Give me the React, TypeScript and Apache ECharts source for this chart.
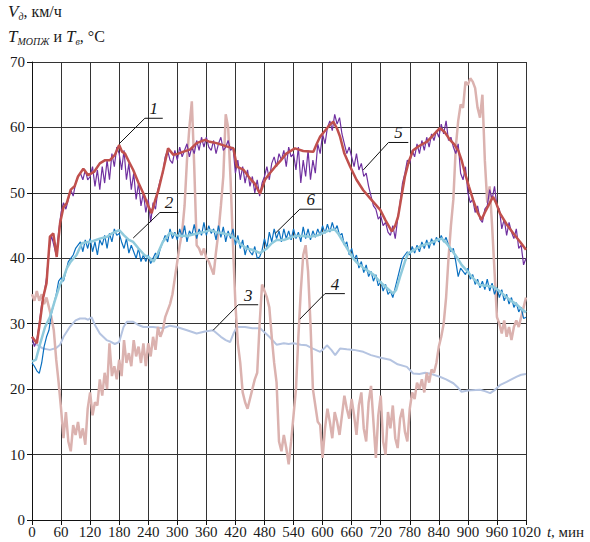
import React, { useEffect, useRef } from "react";
import * as echarts from "echarts";

// ---- Data ----
// Noisy raw series sampled every 5 minutes from 0 to 1020
const purpleSpeed = [
  28, 26.5, 27.5, 30, 33, 34.5, 37, 41, 43.5, 42, 40.5, 44,
  47, 48.5, 47.5, 49, 50.5, 49.5, 51.5, 52.5, 53, 52, 53.5, 52,
  52.5, 54, 51, 53.5, 50.5, 54, 51.5, 55, 52, 56, 54, 57,
  56, 53.5, 56.5, 52, 54.5, 50.5, 53, 49, 51.5, 48, 50, 47,
  49, 45.5, 48.5, 47.5, 50.5, 52, 53, 55.5, 56.5, 55, 54.5, 56.5,
  55, 57, 55.5, 56.5, 57.5, 55.5, 57, 56, 58, 56.5, 58.5, 57,
  58.5, 57, 56.5, 58, 56, 57.5, 58.5, 56.5, 57, 58, 56.5, 57,
  53, 55, 52, 54, 51.5, 53.5, 51, 52.5, 50, 52, 49.5, 51.5,
  52.5, 54, 52, 54.5, 55.5, 54, 56, 55, 56.5, 54, 57, 55.5,
  56, 53.5, 57, 51.5, 55, 52.5, 56.5, 52, 55, 53, 57.5, 56,
  59, 57.5, 60, 61, 59.5, 62, 60.5, 61.5, 59, 57.5, 56, 57,
  55.5, 54, 56, 53.5, 54.5, 52.5, 53, 51, 49.5, 48, 47.5, 46,
  46.5, 45, 45.5, 44, 43.5, 45, 43, 46, 48.5, 51.5, 53, 55,
  54.5, 56.5, 55.5, 57.5, 56, 58, 56.5, 58.5, 57, 59, 58, 59.5,
  58.5, 60.5, 59, 61, 58, 58.5, 57, 56, 57.5, 53, 52, 54,
  50, 48.5, 49, 47, 48, 46, 45.5, 47.5, 48, 50.5, 49, 51,
  48, 47.5, 44.5, 46, 43.5, 45.5, 44, 43, 44.5, 41.5, 42, 39,
  40,
];

const darkBlueTemp = [
  24, 23.5, 22.8, 22.4, 24, 26.5, 28, 29, 31.5, 33, 34.5, 36.5,
  37, 36.5, 38, 39.5, 40, 40.5, 41.5, 42, 42.5, 41, 42.8, 41.5,
  43, 41, 42.5, 40.5, 42.8, 42, 43.5, 41.5, 43.8, 42.5, 44.5, 43.5,
  43.8, 42.5, 41.5, 43, 40.8, 42, 41, 40, 41.5, 39.5, 40.5, 39.5,
  40.5, 39.2, 40, 40.8, 40, 41.5, 42.5, 43.5, 42.5, 44.5, 43, 44,
  42.8, 44.5, 43.2, 45, 42.5, 44.2, 43.5, 45.2, 43, 44.5, 43.5, 45.5,
  43.5, 45, 43.8, 44.5, 42.8, 45, 43.2, 44.8, 42.5, 44.2, 43, 44.5,
  42, 43.5, 41.5, 42.8, 40.5, 42, 41, 40.5, 41.8, 40, 40.2, 41.2,
  43, 41.5, 44, 42.5, 44.5, 43, 44.2, 42.5, 44.5, 43, 44.2, 42.8,
  44.5, 43, 44, 42.5, 44.8, 43, 44.5, 42.8, 44.2, 43.2, 44.5, 43.5,
  45, 43.8, 45.2, 44, 45.5, 44.2, 45, 43.5, 43.8, 42, 42.5, 40.5,
  41.5, 39.8, 40.5, 38.5, 39.5, 37.8, 39, 37.2, 38, 36.5, 37.5, 35.8,
  36.5, 35, 36, 34.5, 35, 34, 35.5, 37, 38.5, 40, 40.5, 41,
  40.5, 41.8, 40.8, 42, 41, 42.5, 41.5, 42.8, 41.5, 43, 42, 43.2,
  42.5, 43.5, 42.5, 43.2, 42, 41, 41.5, 39.5, 37.2, 38.5, 38, 37.5,
  38.5, 36.8, 37.5, 36, 36.8, 35.5, 36.5, 35.2, 36.8, 35, 36.2, 34.5,
  35.5, 34, 35.2, 33.5, 34.5, 33, 34, 32.5, 33.2, 31.8, 32.5, 30.8,
  31,
];

const pinkTemp = [
  34.5, 33.5, 35, 33.5, 34.5, 33, 34, 32.5, 31, 29, 24.5, 21,
  17, 12.5, 16.5, 12, 10.5, 14.5, 13, 15, 12.5, 14, 11.5, 17,
  19.5, 16, 18, 17.5, 21.5, 19, 22.5, 20, 27, 22, 23.5, 21.5,
  24.5, 22, 27.5, 24, 25.5, 23.5, 27.5, 25, 26.5, 24, 27, 23.5,
  27, 25, 28, 26, 29.5, 28, 29, 31, 32, 33, 34.5, 37,
  39.5, 42, 44, 48, 55, 60, 64, 54, 42, 41.5, 40.5, 41.5,
  40, 39.5, 38.5, 37.5, 41, 44, 48, 52.5, 62, 60, 52, 42,
  33, 27, 24, 19.5, 18, 17, 18.5, 20, 21.5, 22.5, 30, 36,
  35, 34, 32.5, 28, 24, 21, 12, 10.5, 13, 11, 8.5, 12,
  16, 20, 28, 35, 40.5, 42, 38, 30, 20, 17.5, 15, 14.5,
  9.5, 14, 17, 15, 12.5, 16.5, 15, 13, 16, 19, 17, 15.5,
  18.5, 16, 13, 17.5, 19.5, 14, 12, 18, 20.5, 15, 9.5, 16,
  19, 12, 10, 16.5, 14, 17.5, 12.5, 11, 15.5, 17, 13.5, 12,
  17, 19.5, 18.5, 21, 20, 21.5, 19.5, 22.5, 21, 23, 22.5, 24,
  26.5, 28, 30, 34, 40, 45, 49, 57, 61, 63.5, 63, 67,
  66.5, 67.5, 67, 66, 63, 61.5, 65, 55, 48.5, 51, 45, 38,
  31, 30, 28.5, 30.5, 28, 29.5, 27.5, 29.5, 30.5, 29.5, 31, 32.5,
  34,
];

// Smoothed series as [minute, value]
const redSpeed = [
  [0, 28], [5, 27.5], [10, 27], [17, 30.6], [23, 34], [30, 36.2], [37, 43.3], [44, 43.8], [51, 40.2],
  [58, 45.4], [65, 47.8], [72, 48.5], [80, 50.5], [88, 51], [95, 52.5], [106, 53.7], [116, 52.7],
  [128, 53.2], [140, 54.5], [151, 55], [161, 55], [171, 55.8], [180, 57.3], [186, 56.3], [192, 56],
  [200, 54.8], [209, 53.5], [220, 51.5], [230, 49.9], [240, 48], [247, 46.9], [254, 48.8], [261, 50.4],
  [271, 53.5], [281, 56.8], [292, 55.8], [302, 56], [313, 56.3], [326, 56.6], [340, 57.6], [357, 58.1],
  [367, 57.8], [381, 57.6], [402, 57.1], [416, 56.8], [423, 54], [437, 53.5], [450, 52.2], [460, 51.4],
  [467, 50.4], [471, 49.9], [481, 52], [491, 53], [502, 54], [512, 54.8], [525, 56], [543, 56.8],
  [560, 56.4], [581, 56.3], [588, 57.5], [595, 58.6], [605, 59.5], [615, 60.4], [622, 60.9], [630, 59.8],
  [636, 58.6], [645, 56], [657, 54], [670, 52], [684, 50.4], [700, 49], [719, 47.4], [730, 45.8],
  [743, 44.1], [750, 45], [756, 46.4], [763, 49.5], [770, 52.5], [778, 54.8], [787, 56.5], [800, 57.2],
  [815, 57.8], [828, 58.8], [842, 59.9], [852, 59.3], [863, 58.1], [872, 57.4], [880, 56.5], [887, 55],
  [894, 53], [902, 51], [911, 48.9], [920, 47], [928, 45.9], [935, 47], [942, 48], [952, 49.4],
  [958, 48.5], [966, 46.9], [980, 45.2], [994, 43.8], [1008, 42.5], [1020, 41.3],
];

const lightBlueTemp = [
  [0, 24.2], [8, 24.5], [17, 27], [27, 29.5], [37, 31], [47, 33.5], [58, 36], [65, 37], [72, 38.5],
  [80, 39.5], [92, 40.5], [103, 42.3], [115, 42.5], [125, 42.6], [140, 43], [155, 43.3], [165, 43.8],
  [180, 44.3], [190, 43.5], [200, 42.8], [209, 42.5], [220, 41.5], [232, 40.5], [244, 40], [251, 39.5],
  [260, 40.8], [270, 42.5], [285, 43.9], [300, 43.5], [320, 43.4], [340, 43.8], [355, 44], [368, 44.3],
  [380, 44], [395, 43.8], [409, 43.6], [420, 43], [430, 42.2], [443, 41.5], [455, 41.3], [471, 40.8],
  [485, 41.5], [495, 42.3], [505, 42.8], [520, 42.8], [535, 43.2], [546, 43.4], [560, 43.4], [574, 43.3],
  [590, 43.5], [605, 44], [615, 44.3], [625, 44.4], [632, 43.8], [645, 42.2], [655, 41], [663, 40],
  [670, 39.4], [685, 38.5], [705, 37.5], [720, 36.3], [735, 35.3], [746, 34.6], [752, 35.2], [760, 37.2],
  [770, 39.5], [777, 40.8], [790, 41.3], [801, 41.8], [815, 42.2], [825, 42.4], [836, 42.8], [846, 43],
  [856, 42.3], [866, 41.3], [877, 40.2], [887, 39], [897, 38.2], [910, 37], [925, 35.9], [938, 35.8],
  [952, 35.7], [965, 35], [976, 34.3], [987, 33.6], [1000, 33], [1010, 32.3], [1020, 31.7],
];

const airTemp = [
  [0, 27], [10, 26.8], [23, 26.2], [37, 26], [50, 26.3], [58, 26.8], [65, 28], [78, 29.5], [90, 30.5],
  [99, 30.8], [110, 30.8], [116, 30.6], [123, 31], [130, 29.8], [140, 28.5], [154, 27.5], [161, 27.3],
  [171, 26.9], [180, 27.2], [189, 29.5], [196, 30.3], [209, 30.3], [220, 29.8], [230, 29.5], [250, 29.5],
  [271, 29.3], [285, 29.7], [299, 29.5], [320, 29], [340, 28.5], [357, 28.8], [374, 29], [390, 28],
  [400, 27.5], [409, 27.2], [416, 28.5], [423, 29.5], [440, 29.5], [455, 29.3], [471, 29.3], [490, 28],
  [505, 26.8], [520, 27], [530, 26.9], [540, 27], [555, 26.8], [567, 26.7], [580, 26.2], [595, 25.7],
  [603, 26.2], [609, 26.7], [618, 26], [626, 25.2], [636, 26.2], [650, 26.1], [665, 26], [684, 25.7],
  [700, 25.2], [720, 24.8], [739, 24.5], [755, 23.8], [774, 23.4], [787, 22.4], [800, 22.3], [812, 22.5],
  [825, 22.3], [842, 21.9], [855, 21.5], [870, 20.9], [880, 20.2], [887, 19.6], [900, 19.8], [925, 19.9],
  [935, 19.7], [946, 19.4], [956, 19.9], [966, 20.6], [980, 21.1], [1001, 21.9], [1010, 22.2], [1020, 22.3],
];

// Curve number labels: anchor on the curve, elbow, end of the shelf (data coords)
const labelNames = ["1", "2", "3", "4", "5", "6"];
const labelAnchors = [[180, 57.5], [209, 43.1], [374, 29], [553, 30.7], [684, 53.5], [502, 43.8]];
const labelElbows = [[233, 61.4], [264, 47], [426, 32.9], [605, 34.6], [736, 57.7], [553, 47.5]];
const labelEnds = [[270, 61.4], [302, 47], [467, 32.9], [646, 34.6], [777, 57.7], [598, 47.5]];

const SERIF = "'Liberation Serif', 'DejaVu Serif', serif";

const step = 5;
const toPairs = (vals: number[]) => vals.map((v, i) => [i * step, v]);

export default function App() {
  const ref = useRef<HTMLDivElement>(null);

  useEffect(() => {
    if (!ref.current) return;
    const chart = echarts.init(ref.current, undefined, { renderer: "svg" });

    const lineBase = { type: "line", showSymbol: false, symbol: "none", smooth: false };

    chart.setOption({
      animation: false,
      backgroundColor: "#ffffff",
      grid: { left: 32, right: 64, top: 62, bottom: 22 },
      xAxis: {
        type: "value",
        min: 0,
        max: 1020,
        interval: 60,
        name: "{i|t}{n|, мин}",
        nameLocation: "end",
        nameGap: 12,
        nameTextStyle: {
          verticalAlign: "top",
          padding: [4, 0, 0, 0],
          rich: {
            i: { fontFamily: SERIF, fontStyle: "italic", fontSize: 15, color: "#1a1a1a" },
            n: { fontFamily: SERIF, fontSize: 15, color: "#1a1a1a" },
          },
        },
        axisLine: { show: true, lineStyle: { color: "#111", width: 1 } },
        axisTick: { show: true, length: 5, inside: false, lineStyle: { color: "#111" } },
        axisLabel: {
          fontFamily: SERIF,
          fontSize: 15,
          color: "#1a1a1a",
          margin: 4,
          formatter: (v: number) => String(v),
        },
        splitLine: { show: true, lineStyle: { color: "#333", width: 1 } },
      },
      yAxis: {
        type: "value",
        min: 0,
        max: 70,
        interval: 10,
        axisLine: { show: true, lineStyle: { color: "#111", width: 1 } },
        axisTick: { show: true, length: 5, inside: false, lineStyle: { color: "#111" } },
        axisLabel: { fontFamily: SERIF, fontSize: 15, color: "#1a1a1a", margin: 7 },
        splitLine: { show: true, lineStyle: { color: "#333", width: 1 } },
      },
      series: [
        { ...lineBase, name: "air", data: airTemp, z: 2, lineStyle: { color: "#b5c4e1", width: 2 } },
        { ...lineBase, name: "pink", data: toPairs(pinkTemp), z: 3, lineStyle: { color: "#dbb2af", width: 2.5 } },
        { ...lineBase, name: "purple", data: toPairs(purpleSpeed), z: 4, lineStyle: { color: "#7030a0", width: 1.2 } },
        { ...lineBase, name: "red", data: redSpeed, z: 5, lineStyle: { color: "#c0504d", width: 2.5 } },
        { ...lineBase, name: "darkblue", data: toPairs(darkBlueTemp), z: 6, lineStyle: { color: "#0a70c0", width: 1.2 } },
        { ...lineBase, name: "lightblue", data: lightBlueTemp, z: 7, lineStyle: { color: "#8fcadc", width: 2.5 } },
      ],
    });

    const graphics: any[] = [
      {
        type: "text",
        left: 8,
        top: 3,
        style: {
          text: "{v|V}{s|д}{n|, км/ч}",
          rich: {
            v: { fontFamily: SERIF, fontStyle: "italic", fontSize: 17, lineHeight: 20, fill: "#1a1a1a" },
            s: { fontFamily: SERIF, fontStyle: "italic", fontSize: 10, lineHeight: 8, verticalAlign: "bottom", fill: "#1a1a1a" },
            n: { fontFamily: SERIF, fontSize: 16, lineHeight: 20, fill: "#1a1a1a" },
          },
        },
      },
      {
        type: "text",
        left: 8,
        top: 28,
        style: {
          text: "{v|T}{s|МОПЖ}{n| и }{v|T}{s|в}{n|, °C}",
          rich: {
            v: { fontFamily: SERIF, fontStyle: "italic", fontSize: 17, lineHeight: 20, fill: "#1a1a1a" },
            s: { fontFamily: SERIF, fontStyle: "italic", fontSize: 10, lineHeight: 8, verticalAlign: "bottom", fill: "#1a1a1a" },
            n: { fontFamily: SERIF, fontSize: 16, lineHeight: 20, fill: "#1a1a1a" },
          },
        },
      },
    ];

    labelNames.forEach((name, i) => {
      const a = chart.convertToPixel({ gridIndex: 0 }, labelAnchors[i]) as number[];
      const e = chart.convertToPixel({ gridIndex: 0 }, labelElbows[i]) as number[];
      const d = chart.convertToPixel({ gridIndex: 0 }, labelEnds[i]) as number[];
      graphics.push({
        type: "polyline",
        z: 100,
        shape: { points: [a, e, d] },
        style: { stroke: "#111", lineWidth: 1, fill: null },
      });
      graphics.push({
        type: "text",
        z: 100,
        x: (e[0] + d[0]) / 2,
        y: e[1] - 1,
        style: {
          text: name,
          fontFamily: SERIF,
          fontStyle: "italic",
          fontSize: 17,
          fill: "#1a1a1a",
          align: "center",
          verticalAlign: "bottom",
        },
      });
    });

    chart.setOption({ graphic: graphics });

    return () => chart.dispose();
  }, []);

  return (
    <div
      ref={ref}
      style={{ position: "absolute", left: 0, top: 0, width: 590, height: 542, background: "#fff" }}
    />
  );
}
